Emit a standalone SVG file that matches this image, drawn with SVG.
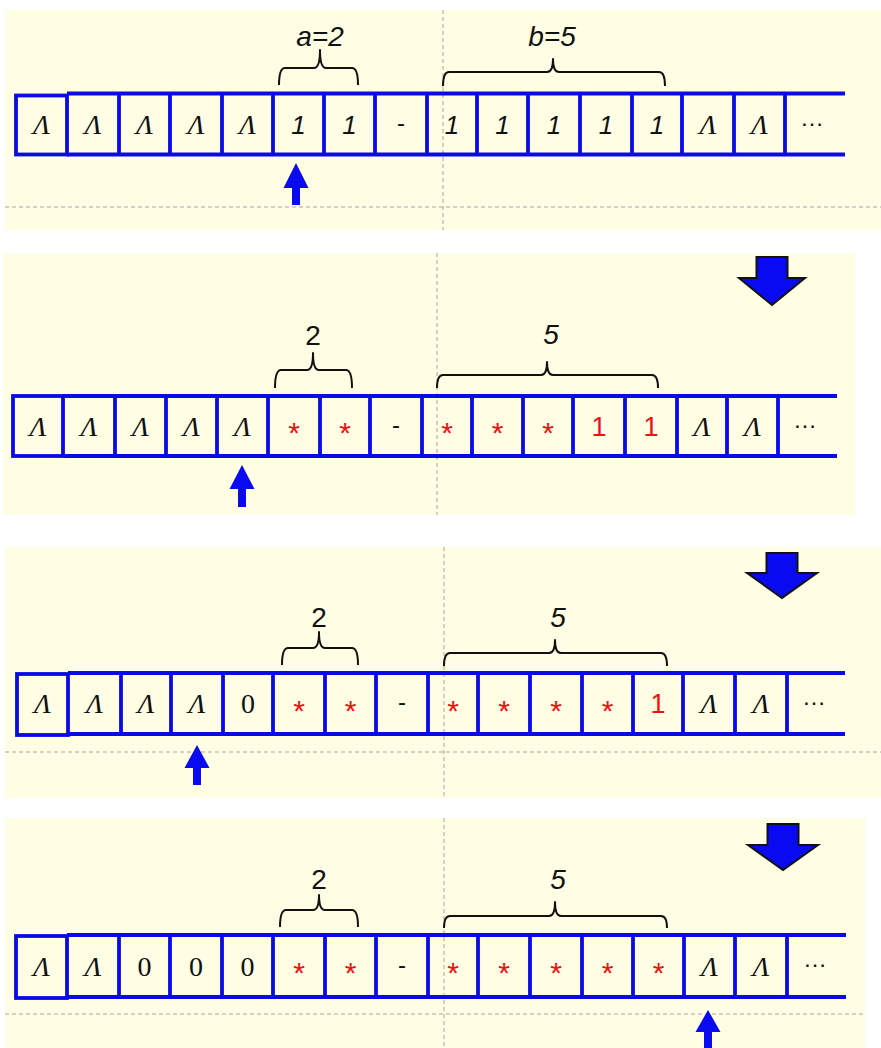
<svg xmlns="http://www.w3.org/2000/svg" width="881" height="1048" viewBox="0 0 881 1048">
<style>
.bg{fill:#FFFDE4;stroke:none}
.dash{stroke:#A8A8A0;stroke-width:1;stroke-dasharray:4 3;fill:none}
.tape{stroke:#0A0AE6;stroke-width:3.8;fill:none}
.brace{stroke:#111;stroke-width:2;fill:none;stroke-linejoin:round}
.lam{font-family:"Liberation Serif",serif;font-style:italic;font-size:28px;text-anchor:middle;fill:#111}
.one{font-family:"Liberation Sans",sans-serif;font-style:italic;font-size:26px;text-anchor:middle;fill:#111}
.ast{font-family:"Liberation Sans",sans-serif;font-size:30px;text-anchor:middle;fill:#EE1111}
.red1{font-family:"Liberation Sans",sans-serif;font-size:27px;text-anchor:middle;fill:#EE1111}
.zero{font-family:"Liberation Serif",serif;font-size:28px;text-anchor:middle;fill:#111}
.hy{font-family:"Liberation Sans",sans-serif;font-size:24px;text-anchor:middle;fill:#111}
.dots{font-family:"Liberation Sans",sans-serif;font-size:24px;text-anchor:middle;fill:#111}
.lbl{font-family:"Liberation Sans",sans-serif;font-size:28px;text-anchor:middle;fill:#111}
.lbli{font-family:"Liberation Sans",sans-serif;font-style:italic;font-size:28px;text-anchor:middle;fill:#111}
.head{fill:#0A0AF0;stroke:none}
.big{fill:#0A0AF0;stroke:#111;stroke-width:2;stroke-linejoin:miter}
</style>

<!-- backgrounds -->
<rect class="bg" x="5" y="10" width="876" height="220"/>
<rect class="bg" x="3" y="253" width="852" height="262"/>
<rect class="bg" x="5" y="547" width="876" height="251"/>
<rect class="bg" x="5" y="818" width="860" height="230"/>

<!-- guide dashed lines -->
<g id="guides">
<line class="dash" x1="443" y1="10" x2="443" y2="230"/>
<line class="dash" x1="5" y1="207" x2="881" y2="207"/>
<line class="dash" x1="437" y1="253" x2="437" y2="515"/>
<line class="dash" x1="444" y1="547" x2="444" y2="798"/>
<line class="dash" x1="5" y1="752" x2="881" y2="752"/>
<line class="dash" x1="444" y1="818" x2="444" y2="1048"/>
<line class="dash" x1="5" y1="1014" x2="865" y2="1014"/>
</g>

<!-- ========== Panel 1 ========== -->
<g id="panel1-tape">
<rect class="tape" x="16" y="95.5" width="51" height="59"/>
<path class="tape" d="M67 93.5H845M67 154.5H845M119 93.5V154.5M170 93.5V154.5M222 93.5V154.5M273 93.5V154.5M324 93.5V154.5M375 93.5V154.5M427 93.5V154.5M477 93.5V154.5M528 93.5V154.5M580 93.5V154.5M632 93.5V154.5M682 93.5V154.5M734 93.5V154.5M785 93.5V154.5"/>
<text class="lam" x="41.5" y="134">Λ</text>
<text class="lam" x="93" y="134">Λ</text>
<text class="lam" x="144.5" y="134">Λ</text>
<text class="lam" x="196" y="134">Λ</text>
<text class="lam" x="247.5" y="134">Λ</text>
<text class="one" x="298.5" y="133.5">1</text>
<text class="one" x="349.5" y="133.5">1</text>
<text class="hy" x="401" y="131">-</text>
<text class="one" x="452" y="133.5">1</text>
<text class="one" x="502.5" y="133.5">1</text>
<text class="one" x="554" y="133.5">1</text>
<text class="one" x="606" y="133.5">1</text>
<text class="one" x="657" y="133.5">1</text>
<text class="lam" x="708" y="134">Λ</text>
<text class="lam" x="759.5" y="134">Λ</text>
<text class="dots" x="812" y="126">…</text>
</g>
<g id="panel1-brace-a">
<path class="brace" d="M279 85Q279 68 285 68L314 68Q320 68 320 50Q320 68 326 68L352 68Q358 68 358 85"/>
<text class="lbli" x="320" y="46">a=2</text>
</g>
<g id="panel1-brace-b">
<path class="brace" d="M443 86Q443 72 449 72L547 72Q553 72 553 59Q553 72 559 72L659 72Q665 72 665 86"/>
<text class="lbli" x="552" y="46">b=5</text>
</g>
<g id="panel1-head">
<path class="head" d="M296 163L308.5 188L300 188L300 205L292 205L292 188L283.5 188Z"/>
</g>

<!-- ========== Panel 2 ========== -->
<g id="panel2-tape">
<rect class="tape" x="13" y="396" width="50" height="60"/>
<path class="tape" d="M63 396H837M63 456H837M115 396V456M166 396V456M217 396V456M268 396V456M320 396V456M370 396V456M422 396V456M472 396V456M523 396V456M573 396V456M625 396V456M677 396V456M727 396V456M778 396V456"/>
<text class="lam" x="38" y="435.5">Λ</text>
<text class="lam" x="89" y="435.5">Λ</text>
<text class="lam" x="140.5" y="435.5">Λ</text>
<text class="lam" x="191.5" y="435.5">Λ</text>
<text class="lam" x="242.5" y="435.5">Λ</text>
<text class="ast" x="294" y="443">*</text>
<text class="ast" x="345" y="443">*</text>
<text class="hy" x="396" y="432.5">-</text>
<text class="ast" x="447" y="443">*</text>
<text class="ast" x="497.5" y="443">*</text>
<text class="ast" x="548" y="443">*</text>
<text class="red1" x="599" y="435.5">1</text>
<text class="red1" x="651" y="435.5">1</text>
<text class="lam" x="702" y="435.5">Λ</text>
<text class="lam" x="752.5" y="435.5">Λ</text>
<text class="dots" x="805" y="428">…</text>
</g>
<g id="panel2-brace-2">
<path class="brace" d="M275 388Q275 370 281 370L307 370Q313 370 313 353Q313 370 319 370L346 370Q352 370 352 388"/>
<text class="lbl" x="313" y="345">2</text>
</g>
<g id="panel2-brace-5">
<path class="brace" d="M437 388Q437 375 443 375L541 375Q547 375 547 362Q547 375 553 375L652 375Q658 375 658 388"/>
<text class="lbli" x="551" y="344">5</text>
</g>
<g id="panel2-head">
<path class="head" d="M242 465L254.5 489L246 489L246 507L238 507L238 489L229.5 489Z"/>
</g>

<!-- ========== Panel 3 ========== -->
<g id="panel3-tape">
<rect class="tape" x="17" y="674" width="51" height="61"/>
<path class="tape" d="M68 673H845M68 734H845M121 673V734M171 673V734M223 673V734M273 673V734M325 673V734M376 673V734M428 673V734M478 673V734M530 673V734M582 673V734M633 673V734M683 673V734M735 673V734M787 673V734"/>
<text class="lam" x="42.5" y="713">Λ</text>
<text class="lam" x="94.5" y="713">Λ</text>
<text class="lam" x="146" y="713">Λ</text>
<text class="lam" x="197" y="713">Λ</text>
<text class="zero" x="248" y="713">0</text>
<text class="ast" x="299" y="720.5">*</text>
<text class="ast" x="350.5" y="720.5">*</text>
<text class="hy" x="402" y="710">-</text>
<text class="ast" x="453" y="720.5">*</text>
<text class="ast" x="504" y="720.5">*</text>
<text class="ast" x="556" y="720.5">*</text>
<text class="ast" x="607.5" y="720.5">*</text>
<text class="red1" x="658" y="713">1</text>
<text class="lam" x="709" y="713">Λ</text>
<text class="lam" x="761" y="713">Λ</text>
<text class="dots" x="814" y="705">…</text>
</g>
<g id="panel3-brace-2">
<path class="brace" d="M282 665Q282 648 288 648L313 648Q319 648 319 632Q319 648 325 648L352 648Q358 648 358 665"/>
<text class="lbl" x="319" y="627">2</text>
</g>
<g id="panel3-brace-5">
<path class="brace" d="M444 666Q444 653 450 653L549 653Q555 653 555 640Q555 653 561 653L661 653Q667 653 667 666"/>
<text class="lbli" x="558" y="627">5</text>
</g>
<g id="panel3-head">
<path class="head" d="M197 745L209.5 768L201 768L201 785L193 785L193 768L184.5 768Z"/>
</g>

<!-- ========== Panel 4 ========== -->
<g id="panel4-tape">
<rect class="tape" x="16" y="936" width="51" height="62"/>
<path class="tape" d="M67 935H846M67 997H846M119 935V997M170 935V997M222 935V997M273 935V997M325 935V997M376 935V997M428 935V997M478 935V997M530 935V997M582 935V997M633 935V997M684 935V997M735 935V997M787 935V997"/>
<text class="lam" x="41.5" y="975.5">Λ</text>
<text class="lam" x="93" y="975.5">Λ</text>
<text class="zero" x="144.5" y="975.5">0</text>
<text class="zero" x="196" y="975.5">0</text>
<text class="zero" x="247.5" y="975.5">0</text>
<text class="ast" x="299" y="983">*</text>
<text class="ast" x="350.5" y="983">*</text>
<text class="hy" x="402" y="972.5">-</text>
<text class="ast" x="453" y="983">*</text>
<text class="ast" x="504" y="983">*</text>
<text class="ast" x="556" y="983">*</text>
<text class="ast" x="607.5" y="983">*</text>
<text class="ast" x="658.5" y="983">*</text>
<text class="lam" x="709.5" y="975.5">Λ</text>
<text class="lam" x="761" y="975.5">Λ</text>
<text class="dots" x="815" y="967">…</text>
</g>
<g id="panel4-brace-2">
<path class="brace" d="M280 927Q280 910 286 910L313 910Q319 910 319 895Q319 910 325 910L352 910Q358 910 358 927"/>
<text class="lbl" x="319" y="889">2</text>
</g>
<g id="panel4-brace-5">
<path class="brace" d="M444 928Q444 916 450 916L549 916Q555 916 555 902Q555 916 561 916L661 916Q667 916 667 928"/>
<text class="lbli" x="558" y="889">5</text>
</g>
<g id="panel4-head">
<path class="head" d="M708 1010L720.5 1032L712 1032L712 1050L704 1050L704 1032L695.5 1032Z"/>
</g>

<!-- transitions between panels -->
<g id="connectors">
<path class="big" d="M756.5 257H787.5V278H805L772 305L739 278H756.5Z"/>
<path class="big" d="M766.5 553H797.5V573H817L782 598L747 573H766.5Z"/>
<path class="big" d="M767.5 824H798.5V845H818L783 870L748 845H767.5Z"/>
</g>
</svg>
